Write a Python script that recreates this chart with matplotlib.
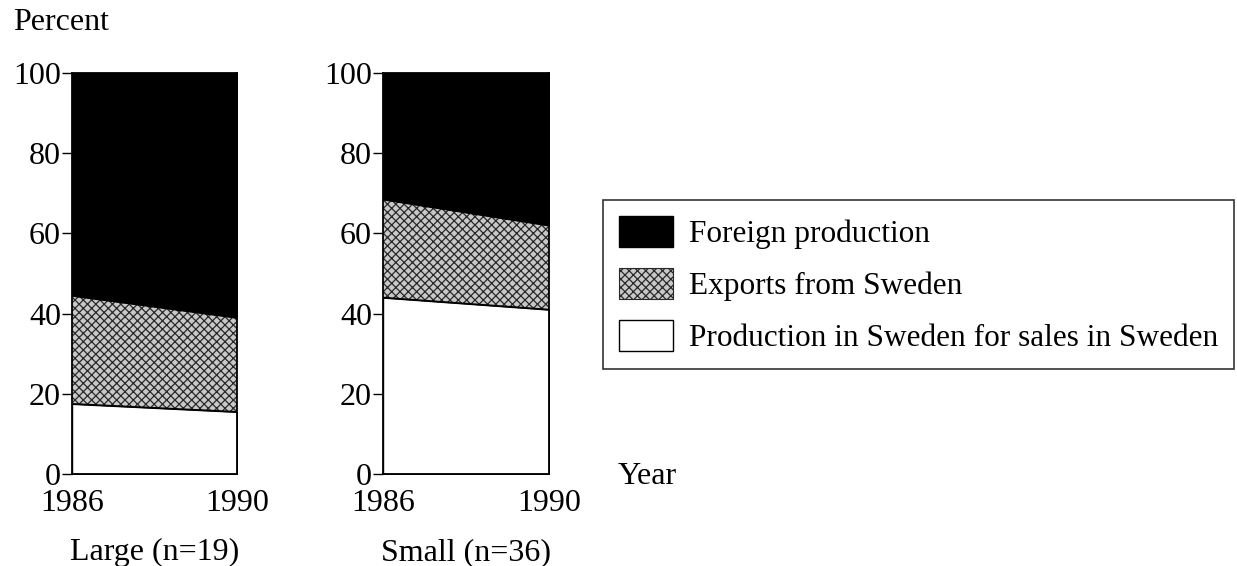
import matplotlib
matplotlib.use("Agg")
import matplotlib.pyplot as plt
from matplotlib.patches import Patch

plt.rcParams['font.family'] = ['Liberation Serif', 'DejaVu Serif']
plt.rcParams['hatch.linewidth'] = 0.9

years = [1986, 1990]
series_names = ['Foreign production', 'Exports from Sweden',
                'Production in Sweden for sales in Sweden']
# share (percent) of each sales component, bottom to top
large_home = [17.5, 15.5]
large_exports = [27.0, 23.5]
large_foreign = [55.5, 61.0]
small_home = [44.0, 41.0]
small_exports = [24.5, 21.0]
small_foreign = [31.5, 38.0]
panel_titles = ['Large (n=19)', 'Small (n=36)']
yticks = [0, 20, 40, 60, 80, 100]

W, H = 1237, 566
fig = plt.figure(figsize=(W / 100, H / 100), dpi=100)
fs = 23
hatch_face = '#c8c8c8'
hatch_col = '#282828'


def draw_panel(ax, home, exports, foreign, title):
    base = [0, 0]
    mid = [h + e for h, e in zip(home, exports)]
    top = [m + f for m, f in zip(mid, foreign)]
    ax.fill_between(years, base, home, facecolor='white', edgecolor='black', lw=1)
    ax.fill_between(years, home, mid, facecolor=hatch_face, edgecolor=hatch_col,
                    hatch='xxxx', lw=0)
    ax.plot(years, home, color='black', lw=1.2)
    ax.plot(years, mid, color='black', lw=1)
    ax.fill_between(years, mid, top, facecolor='black', edgecolor='black', lw=1)
    ax.set_xlim(years[0], years[-1])
    ax.set_ylim(0, 100)
    ax.set_yticks(yticks)
    ax.set_xticks(years)
    ax.tick_params(axis='y', direction='out', length=7, width=1, labelsize=fs, pad=1)
    ax.tick_params(axis='x', length=0, labelsize=fs, pad=11)
    for s in ax.spines.values():
        s.set_linewidth(1.3)
    ax.set_xlabel(title, fontsize=fs, labelpad=14)


ax1 = fig.add_axes([72 / W, 1 - 474 / H, 165 / W, 401 / H])
draw_panel(ax1, large_home, large_exports, large_foreign, panel_titles[0])
ax2 = fig.add_axes([383 / W, 1 - 474 / H, 166 / W, 401 / H])
draw_panel(ax2, small_home, small_exports, small_foreign, panel_titles[1])

fig.text(13 / W, 1 - 22 / H, 'Percent', fontsize=fs, va='center', ha='left')
fig.text(618 / W, 1 - 477 / H, 'Year', fontsize=fs, va='center', ha='left')

handles = [
    Patch(facecolor='black', edgecolor='black'),
    Patch(facecolor=hatch_face, edgecolor=hatch_col, hatch='xxxx', lw=0.8),
    Patch(facecolor='white', edgecolor='black'),
]
leg = fig.legend(handles, series_names, loc='upper left',
                 bbox_to_anchor=(603 / W, 1 - 200 / H), fontsize=22.5,
                 frameon=True, fancybox=False, edgecolor='black',
                 handlelength=1.72, handleheight=1.13, handletextpad=0.5,
                 labelspacing=0.61, borderpad=0.52, borderaxespad=0)
leg.get_frame().set_linewidth(1.2)

fig.savefig('out.png', dpi=100)
